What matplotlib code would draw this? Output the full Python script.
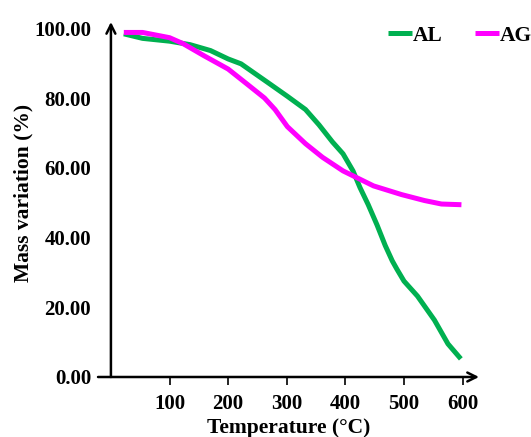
"""
TGA mass-loss curves for AL and AG samples.
"""

import matplotlib
matplotlib.use("Agg")
import matplotlib.pyplot as plt

# traced values (temperature in degC, mass variation in %)
al_temp = [22, 54, 100, 135, 170, 200, 222, 245, 268, 301, 332, 355, 378, 396,
           413, 425, 439, 454, 468, 480, 488, 500, 523, 552, 575, 597]
al_mass = [98.4, 97.1, 96.3, 95.3, 93.6, 91.2, 89.8, 87.1, 84.4, 80.5, 76.7,
           72.3, 67.4, 64.0, 59.1, 54.3, 49.4, 43.6, 37.7, 33.3, 30.9, 27.5,
           23.2, 16.3, 9.5, 5.2]

ag_temp = [22, 54, 100, 123, 158, 200, 233, 262, 280, 301, 332, 361, 396, 419,
           448, 496, 535, 564, 598]
ag_mass = [98.8, 98.8, 97.3, 95.6, 92.2, 88.3, 83.9, 80.0, 76.7, 71.8, 66.9,
           63.0, 59.1, 57.2, 54.8, 52.3, 50.6, 49.6, 49.4]

x_ticks = [100, 200, 300, 400, 500, 600]
y_ticks = [0, 20, 40, 60, 80, 100]

FONT = "Liberation Serif"

fig = plt.figure(figsize=(5.31, 4.37), dpi=100)
ax = fig.add_axes([0.1846, 0.1373, 0.7175, 0.810])

ax.plot(al_temp, al_mass, color="#00B050", linewidth=3.6, label="AL",
        solid_capstyle="butt", solid_joinstyle="round")
ax.plot(ag_temp, ag_mass, color="#FF00FF", linewidth=3.6, label="AG",
        solid_capstyle="butt", solid_joinstyle="round")

ax.set_xlim(-22, 628)
ax.set_ylim(0, 101.5)
for side in ax.spines.values():
    side.set_visible(False)

# axis lines with arrow heads
arrow = dict(arrowstyle="->", lw=1.8, color="black", mutation_scale=16,
             shrinkA=0, shrinkB=0)
ax.annotate("", xy=(628, 0), xytext=(-22, 0), arrowprops=arrow,
            annotation_clip=False)
ax.annotate("", xy=(0, 101.8), xytext=(0, 0), arrowprops=arrow,
            annotation_clip=False)

ax.set_xticks(x_ticks)
ax.set_xticklabels([str(t) for t in x_ticks])
ax.set_yticks(y_ticks)
ax.set_yticklabels([f"{t:.2f}" for t in y_ticks])
ax.tick_params(axis="x", direction="out", length=6, width=1.2, pad=6)
ax.tick_params(axis="y", length=0, pad=5)
for lab in ax.get_xticklabels() + ax.get_yticklabels():
    lab.set_fontfamily(FONT)
    lab.set_fontweight("bold")
    lab.set_fontsize(15)

ax.set_xlabel("Temperature (°C)", fontfamily=FONT, fontweight="bold",
              fontsize=15.5, labelpad=3)
ax.set_ylabel("Mass variation (%)", fontfamily=FONT, fontweight="bold",
              fontsize=15.5)
# right edge of the rotated label sits at this x
ax.yaxis.set_label_coords(0.064, 0.5595, transform=fig.transFigure)

leg = fig.legend(loc="center left", bbox_to_anchor=(0.731, 0.918), ncol=2,
                 frameon=False, borderpad=0, borderaxespad=0,
                 handlelength=1.1, handletextpad=0.05, columnspacing=1.5,
                 prop=dict(family=FONT, weight="bold", size=15.5))

fig.savefig("out.png", dpi=100)
